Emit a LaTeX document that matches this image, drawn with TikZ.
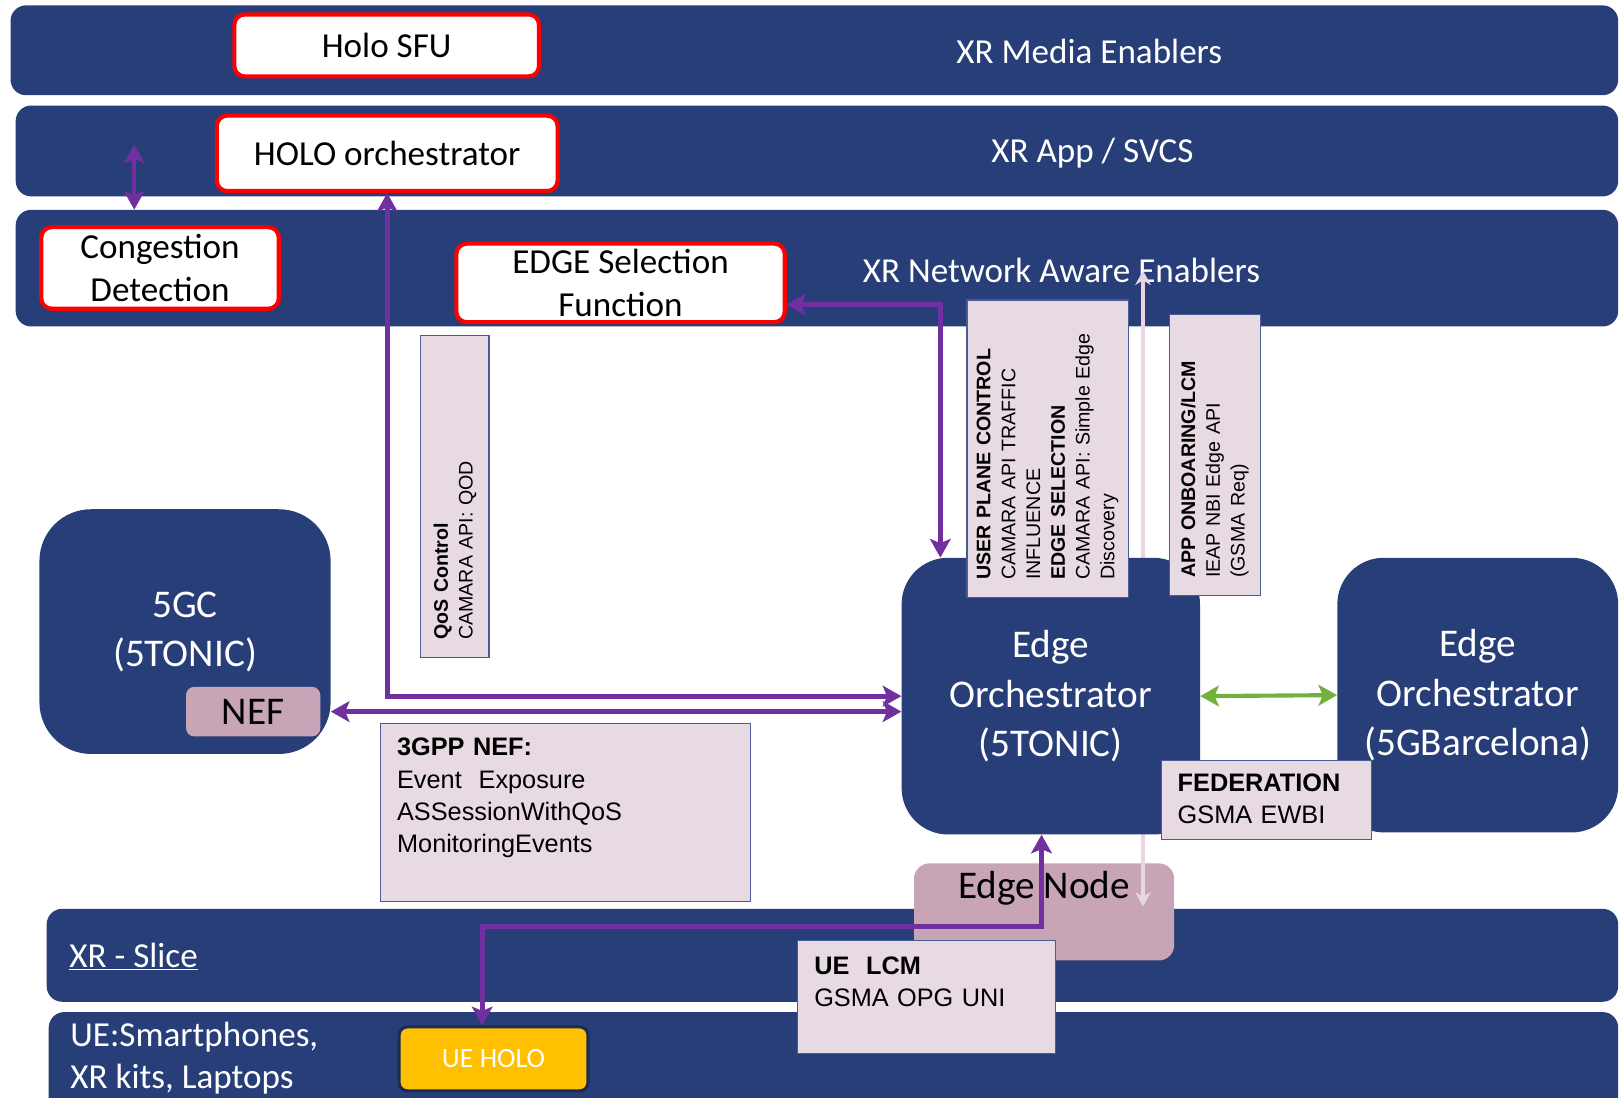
\documentclass[tikz,border=0pt]{standalone}
\usepackage{fontspec}
\setmainfont{Carlito}
\newfontfamily\arialfont{Liberation Sans}
\usetikzlibrary{positioning,arrows.meta}
\definecolor{xrnavy}{RGB}{40,62,120}
\definecolor{holored}{RGB}{255,0,0}
\definecolor{linkpurple}{RGB}{112,48,160}
\definecolor{apipink}{RGB}{232,218,226}
\definecolor{apiborder}{RGB}{74,92,148}
\definecolor{nodemauve}{RGB}{199,165,182}
\definecolor{fedgreen}{RGB}{112,178,60}
\definecolor{uegold}{RGB}{255,192,0}
\definecolor{userpink}{RGB}{232,214,226}
\tikzset{>={Stealth[length=18pt,width=20pt,inset=4pt]}}

\begin{document}
\begin{tikzpicture}[x=1pt,y=-1pt,
    band/.style={fill=xrnavy, rounded corners=15pt, anchor=north west, inner sep=0pt},
    bandlabel/.style={text=white, font=\fontsize{34}{41}\selectfont},
    holobox/.style={draw=holored, line width=4pt, fill=white, rounded corners=10pt,
      anchor=north west, inner sep=0pt, align=center, font=\fontsize{34}{41}\selectfont},
    orchbox/.style={fill=xrnavy, anchor=north west, inner sep=0pt, align=center,
      text=white, font=\fontsize{38}{47.5}\selectfont},
    apibox/.style={draw=apiborder, line width=1.2pt, fill=apipink, anchor=north west,
      align=left, inner xsep=16pt, text height=17.5pt,
      font=\arialfont\fontsize{24.5}{31.3}\selectfont},
    apivert/.style={draw=apiborder, line width=1.2pt, fill=apipink, rotate=90,
      anchor=north east, align=left, inner xsep=17pt, inner ysep=0pt,
      font=\arialfont\fontsize{19}{24}\selectfont},
    link/.style={<->, draw=linkpurple, line width=5pt},
    userlink/.style={{Stealth[length=14pt,width=15pt]}-{Stealth[length=14pt,width=15pt]},
      draw=userpink, line width=3.5pt},
  ]
  \useasboundingbox (0,0) rectangle (1568,1063);

  % layers
  \node[band, minimum width=1557pt, minimum height=87pt] (media) at (10,5) {};
  \node[band, minimum width=1552pt, minimum height=88pt] (app) at (15,102) {};
  \node[band, minimum width=1552pt, minimum height=113pt] (nae) at (15,203) {};
  \node[band, minimum width=1522pt, minimum height=90pt] (slice) at (45,880) {};
  \node[band, minimum width=1520pt, minimum height=110pt] (uel) at (47,980) {};

  \node[bandlabel] (medialbl) at (1055,50) {XR Media Enablers};
  \node[bandlabel] (applbl) at (1058,148) {XR App / SVCS};
  \node[bandlabel] (naelbl) at (1028,262) {XR Network Aware Enablers};
  \node[bandlabel, anchor=west, inner sep=0pt] (slicelbl) at (67,926) {\underline{XR - Slice}};
  \node[bandlabel, anchor=west, align=left, inner sep=0pt] (uelbl) at (68,1025)
    {UE:Smartphones,\\XR kits, Laptops};

  \node[holobox, minimum width=295pt, minimum height=60pt] (sfu) at (225,12) {Holo SFU};
  \node[holobox, minimum width=330pt, minimum height=73pt] (holo) at (208,110) {HOLO orchestrator};
  \node[holobox, minimum width=230pt, minimum height=79pt] (cd) at (38,218) {Congestion\\Detection};
  \node[holobox, minimum width=318pt, minimum height=76pt] (esf) at (440,234) {EDGE Selection\\Function};

  \coordinate (cdup) at (130,140);
  \draw[link, line width=4pt] (cdup) -- (nae.north -| cdup);

  % core and edge
  \node[orchbox, rounded corners=50pt, minimum width=282pt, minimum height=237pt] (gc) at (38,493)
    {5GC\\(5TONIC)};
  \node[fill=nodemauve, rounded corners=8pt, anchor=north west, minimum width=130pt,
    minimum height=48pt, inner sep=0pt, font=\fontsize{38}{46}\selectfont] (nef) at (180,665) {NEF};

  \node[fill=nodemauve, rounded corners=15pt, anchor=north west, minimum width=252pt,
    inner xsep=0pt, inner ysep=6pt, text height=28pt, text depth=54pt,
    font=\fontsize{38}{46}\selectfont] (enode) at (885,836) {Edge Node};

  \coordinate (naetip) at (1107,262);
  \coordinate (enodetip) at (1107,878);
  \draw[userlink] (naetip) -- (enodetip);

  \node[orchbox, rounded corners=45pt, minimum width=289pt, minimum height=268pt] (eo) at (873,540)
    {Edge\\Orchestrator\\(5TONIC)};
  \node[orchbox, rounded corners=45pt, minimum width=272pt, minimum height=266pt] (eob) at (1295,540)
    {Edge\\Orchestrator\\(5GBarcelona)};

  % APIs
  \node[apivert, minimum width=312pt, minimum height=66pt, text width=278pt] (qos) at (407,324)
    {\textbf{QoS Control}\\CAMARA API: QOD};
  \node[apivert, minimum width=288pt, minimum height=156pt, text width=254pt] (upc) at (936,290)
    {\textbf{USER PLANE CONTROL}\\CAMARA API TRAFFIC\\INFLUENCE\\\textbf{EDGE SELECTION}\\CAMARA API: Simple Edge\\Discovery};
  \node[apivert, minimum width=272pt, minimum height=88pt, text width=238pt] (appapi) at (1132,304)
    {\textbf{APP ONBOARING/LCM}\\IEAP NBI Edge API\\(GSMA Req)};
  \node[apibox, inner ysep=14pt, text width=326pt, text depth=127pt] (nefapi) at (368,700)
    {\textbf{3GPP NEF:}\\Event\ \ Exposure\\ASSessionWithQoS\\MonitoringEvents};
  \node[apibox, inner ysep=12.6pt, text width=172pt, text depth=34pt] (fed) at (1124,736)
    {\textbf{FEDERATION}\\GSMA EWBI};

  \draw[link] (holo.south) |- (eo.west);
  \draw[link] (nef -| gc.east) -- (nef -| eo.west);
  \draw[link] ([yshift=-21pt]esf.east) -| ([xshift=-107pt]eo.north);
  \draw[<->, draw=fedgreen, line width=4pt] (eo.east) -- (eob.west);

  \node[fill=uegold, draw=xrnavy!70!black, line width=3pt, rounded corners=8pt, anchor=north west,
    minimum width=183pt, minimum height=62pt, text=white, font=\fontsize{27}{32}\selectfont]
    (uehl) at (385,993) {UE HOLO};
  \draw[link] ([xshift=-11pt]uehl.north) -- ++(0,-96) -| ([xshift=-9pt]eo.south);

  \node[apibox, inner ysep=15.6pt, text width=218pt, text depth=61pt] (uelcm) at (772,910)
    {\textbf{UE\ \ LCM}\\GSMA OPG UNI};
\end{tikzpicture}
\end{document}
